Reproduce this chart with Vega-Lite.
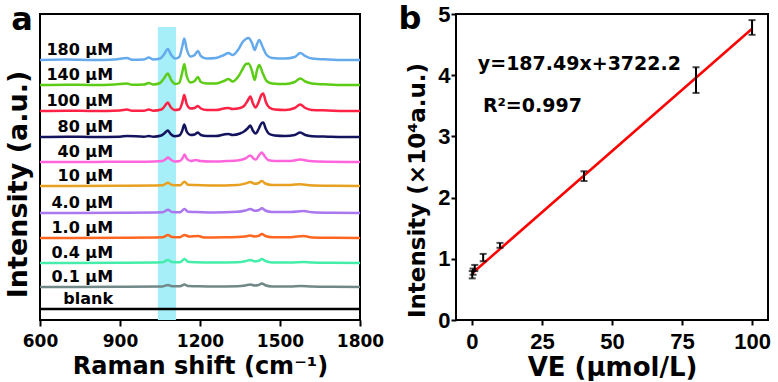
{
"$schema": "https://vega.github.io/schema/vega-lite/v6.json",
"padding": {"left": 3, "top": 2, "right": 0, "bottom": 0},
"background": "white",
"datasets": {
"spec": [
{"s":"180 µM","x":600,"y":260},{"s":"180 µM","x":700,"y":260.5},{"s":"180 µM","x":800,"y":260},{"s":"180 µM","x":880,"y":260.5},{"s":"180 µM","x":926,"y":262},{"s":"180 µM","x":945,"y":260.3},{"s":"180 µM","x":990,"y":260.5},{"s":"180 µM","x":1008,"y":262.5},{"s":"180 µM","x":1025,"y":260.5},{"s":"180 µM","x":1050,"y":261.5},{"s":"180 µM","x":1066,"y":266},{"s":"180 µM","x":1079,"y":271},{"s":"180 µM","x":1092,"y":265},{"s":"180 µM","x":1108,"y":261.5},{"s":"180 µM","x":1122,"y":263},{"s":"180 µM","x":1133,"y":273},{"s":"180 µM","x":1141,"y":281.5},{"s":"180 µM","x":1150,"y":271},{"s":"180 µM","x":1165,"y":263.5},{"s":"180 µM","x":1180,"y":265},{"s":"180 µM","x":1192,"y":269},{"s":"180 µM","x":1203,"y":264},{"s":"180 µM","x":1225,"y":261.5},{"s":"180 µM","x":1260,"y":262},{"s":"180 µM","x":1290,"y":265},{"s":"180 µM","x":1307,"y":267},{"s":"180 µM","x":1322,"y":265},{"s":"180 µM","x":1345,"y":271},{"s":"180 µM","x":1360,"y":278},{"s":"180 µM","x":1372,"y":281},{"s":"180 µM","x":1382,"y":282},{"s":"180 µM","x":1395,"y":277},{"s":"180 µM","x":1405,"y":270},{"s":"180 µM","x":1414,"y":276},{"s":"180 µM","x":1422,"y":280},{"s":"180 µM","x":1435,"y":273},{"s":"180 µM","x":1450,"y":265},{"s":"180 µM","x":1470,"y":262},{"s":"180 µM","x":1520,"y":261.5},{"s":"180 µM","x":1555,"y":263},{"s":"180 µM","x":1576,"y":267},{"s":"180 µM","x":1595,"y":264},{"s":"180 µM","x":1620,"y":261.5},{"s":"180 µM","x":1680,"y":260.5},{"s":"180 µM","x":1740,"y":260},{"s":"180 µM","x":1800,"y":260},
{"s":"140 µM","x":600,"y":235},{"s":"140 µM","x":700,"y":235.3},{"s":"140 µM","x":800,"y":235},{"s":"140 µM","x":880,"y":235.5},{"s":"140 µM","x":926,"y":236.5},{"s":"140 µM","x":945,"y":235.3},{"s":"140 µM","x":990,"y":235.5},{"s":"140 µM","x":1008,"y":237},{"s":"140 µM","x":1025,"y":235.5},{"s":"140 µM","x":1050,"y":237},{"s":"140 µM","x":1066,"y":242},{"s":"140 µM","x":1079,"y":246.5},{"s":"140 µM","x":1092,"y":240},{"s":"140 µM","x":1108,"y":236},{"s":"140 µM","x":1122,"y":237},{"s":"140 µM","x":1133,"y":247},{"s":"140 µM","x":1141,"y":256},{"s":"140 µM","x":1150,"y":244},{"s":"140 µM","x":1165,"y":237.5},{"s":"140 µM","x":1180,"y":239},{"s":"140 µM","x":1192,"y":243},{"s":"140 µM","x":1203,"y":238},{"s":"140 µM","x":1225,"y":236.5},{"s":"140 µM","x":1260,"y":236.5},{"s":"140 µM","x":1290,"y":239},{"s":"140 µM","x":1307,"y":241},{"s":"140 µM","x":1322,"y":238.5},{"s":"140 µM","x":1345,"y":244},{"s":"140 µM","x":1360,"y":251},{"s":"140 µM","x":1372,"y":256},{"s":"140 µM","x":1382,"y":256.5},{"s":"140 µM","x":1395,"y":249},{"s":"140 µM","x":1405,"y":240},{"s":"140 µM","x":1414,"y":250},{"s":"140 µM","x":1422,"y":255},{"s":"140 µM","x":1435,"y":247},{"s":"140 µM","x":1450,"y":239},{"s":"140 µM","x":1470,"y":236.5},{"s":"140 µM","x":1520,"y":236},{"s":"140 µM","x":1555,"y":238},{"s":"140 µM","x":1576,"y":241.5},{"s":"140 µM","x":1595,"y":238.5},{"s":"140 µM","x":1620,"y":236.5},{"s":"140 µM","x":1680,"y":235.5},{"s":"140 µM","x":1740,"y":235},{"s":"140 µM","x":1800,"y":235},
{"s":"100 µM","x":600,"y":209},{"s":"100 µM","x":700,"y":209.3},{"s":"100 µM","x":800,"y":209},{"s":"100 µM","x":900,"y":209.5},{"s":"100 µM","x":926,"y":210.5},{"s":"100 µM","x":945,"y":209.3},{"s":"100 µM","x":990,"y":209.3},{"s":"100 µM","x":1008,"y":210.5},{"s":"100 µM","x":1025,"y":209.3},{"s":"100 µM","x":1055,"y":210.5},{"s":"100 µM","x":1068,"y":214},{"s":"100 µM","x":1079,"y":217.5},{"s":"100 µM","x":1090,"y":213},{"s":"100 µM","x":1105,"y":210},{"s":"100 µM","x":1122,"y":210.5},{"s":"100 µM","x":1133,"y":217},{"s":"100 µM","x":1141,"y":225},{"s":"100 µM","x":1150,"y":216},{"s":"100 µM","x":1165,"y":211.5},{"s":"100 µM","x":1180,"y":212},{"s":"100 µM","x":1192,"y":214},{"s":"100 µM","x":1203,"y":211.5},{"s":"100 µM","x":1225,"y":210},{"s":"100 µM","x":1260,"y":210},{"s":"100 µM","x":1290,"y":211.5},{"s":"100 µM","x":1307,"y":212},{"s":"100 µM","x":1322,"y":211},{"s":"100 µM","x":1350,"y":212},{"s":"100 µM","x":1365,"y":214},{"s":"100 µM","x":1378,"y":219},{"s":"100 µM","x":1389,"y":223.5},{"s":"100 µM","x":1398,"y":217},{"s":"100 µM","x":1408,"y":212.5},{"s":"100 µM","x":1420,"y":218},{"s":"100 µM","x":1430,"y":225},{"s":"100 µM","x":1437,"y":226.5},{"s":"100 µM","x":1447,"y":218},{"s":"100 µM","x":1460,"y":212.5},{"s":"100 µM","x":1480,"y":210.5},{"s":"100 µM","x":1520,"y":210},{"s":"100 µM","x":1555,"y":212},{"s":"100 µM","x":1576,"y":215.5},{"s":"100 µM","x":1595,"y":212},{"s":"100 µM","x":1620,"y":210},{"s":"100 µM","x":1680,"y":209.5},{"s":"100 µM","x":1740,"y":209},{"s":"100 µM","x":1800,"y":209},
{"s":"80 µM","x":600,"y":183},{"s":"80 µM","x":700,"y":183.3},{"s":"80 µM","x":800,"y":183},{"s":"80 µM","x":900,"y":183.3},{"s":"80 µM","x":926,"y":184},{"s":"80 µM","x":990,"y":183.3},{"s":"80 µM","x":1008,"y":184},{"s":"80 µM","x":1025,"y":183.3},{"s":"80 µM","x":1055,"y":184.5},{"s":"80 µM","x":1068,"y":187},{"s":"80 µM","x":1079,"y":189.5},{"s":"80 µM","x":1090,"y":186},{"s":"80 µM","x":1105,"y":183.8},{"s":"80 µM","x":1122,"y":184.5},{"s":"80 µM","x":1133,"y":189},{"s":"80 µM","x":1141,"y":195.5},{"s":"80 µM","x":1150,"y":188.5},{"s":"80 µM","x":1165,"y":185},{"s":"80 µM","x":1180,"y":185.5},{"s":"80 µM","x":1192,"y":187.5},{"s":"80 µM","x":1203,"y":185},{"s":"80 µM","x":1225,"y":184},{"s":"80 µM","x":1260,"y":184},{"s":"80 µM","x":1290,"y":185.5},{"s":"80 µM","x":1307,"y":186},{"s":"80 µM","x":1322,"y":185},{"s":"80 µM","x":1350,"y":186.5},{"s":"80 µM","x":1365,"y":188.5},{"s":"80 µM","x":1378,"y":191.5},{"s":"80 µM","x":1389,"y":194.5},{"s":"80 µM","x":1398,"y":189.5},{"s":"80 µM","x":1408,"y":186.5},{"s":"80 µM","x":1420,"y":191},{"s":"80 µM","x":1430,"y":196.5},{"s":"80 µM","x":1437,"y":197.5},{"s":"80 µM","x":1447,"y":191},{"s":"80 µM","x":1460,"y":186},{"s":"80 µM","x":1480,"y":184.5},{"s":"80 µM","x":1520,"y":184},{"s":"80 µM","x":1555,"y":185},{"s":"80 µM","x":1576,"y":187.5},{"s":"80 µM","x":1595,"y":185},{"s":"80 µM","x":1620,"y":183.8},{"s":"80 µM","x":1680,"y":183.3},{"s":"80 µM","x":1740,"y":183},{"s":"80 µM","x":1800,"y":183},
{"s":"40 µM","x":600,"y":158},{"s":"40 µM","x":800,"y":158},{"s":"40 µM","x":900,"y":158.3},{"s":"40 µM","x":1000,"y":158.3},{"s":"40 µM","x":1060,"y":159},{"s":"40 µM","x":1072,"y":161},{"s":"40 µM","x":1080,"y":162.5},{"s":"40 µM","x":1090,"y":160.5},{"s":"40 µM","x":1105,"y":158.5},{"s":"40 µM","x":1125,"y":159},{"s":"40 µM","x":1135,"y":162},{"s":"40 µM","x":1142,"y":165.5},{"s":"40 µM","x":1150,"y":161.5},{"s":"40 µM","x":1165,"y":159},{"s":"40 µM","x":1185,"y":160},{"s":"40 µM","x":1200,"y":159},{"s":"40 µM","x":1240,"y":158.5},{"s":"40 µM","x":1300,"y":159},{"s":"40 µM","x":1340,"y":159.5},{"s":"40 µM","x":1370,"y":161.5},{"s":"40 µM","x":1389,"y":164.5},{"s":"40 µM","x":1400,"y":161.5},{"s":"40 µM","x":1410,"y":160.5},{"s":"40 µM","x":1422,"y":165},{"s":"40 µM","x":1432,"y":167.5},{"s":"40 µM","x":1442,"y":164},{"s":"40 µM","x":1455,"y":160},{"s":"40 µM","x":1480,"y":159},{"s":"40 µM","x":1540,"y":159},{"s":"40 µM","x":1576,"y":160.5},{"s":"40 µM","x":1610,"y":159},{"s":"40 µM","x":1680,"y":158.3},{"s":"40 µM","x":1800,"y":158},
{"s":"10 µM","x":600,"y":134},{"s":"10 µM","x":900,"y":134.3},{"s":"10 µM","x":1060,"y":134.8},{"s":"10 µM","x":1080,"y":137.3},{"s":"10 µM","x":1095,"y":135},{"s":"10 µM","x":1125,"y":134.8},{"s":"10 µM","x":1142,"y":138.3},{"s":"10 µM","x":1155,"y":135.2},{"s":"10 µM","x":1185,"y":135},{"s":"10 µM","x":1250,"y":134.5},{"s":"10 µM","x":1340,"y":135},{"s":"10 µM","x":1370,"y":136.5},{"s":"10 µM","x":1389,"y":138},{"s":"10 µM","x":1405,"y":136.2},{"s":"10 µM","x":1420,"y":137},{"s":"10 µM","x":1432,"y":139},{"s":"10 µM","x":1445,"y":136.5},{"s":"10 µM","x":1470,"y":135},{"s":"10 µM","x":1540,"y":135},{"s":"10 µM","x":1576,"y":135.8},{"s":"10 µM","x":1610,"y":134.8},{"s":"10 µM","x":1700,"y":134.2},{"s":"10 µM","x":1800,"y":134},
{"s":"4.0 µM","x":600,"y":107},{"s":"4.0 µM","x":900,"y":107.3},{"s":"4.0 µM","x":1060,"y":107.8},{"s":"4.0 µM","x":1080,"y":110.3},{"s":"4.0 µM","x":1095,"y":108},{"s":"4.0 µM","x":1125,"y":107.8},{"s":"4.0 µM","x":1142,"y":111},{"s":"4.0 µM","x":1155,"y":108.2},{"s":"4.0 µM","x":1185,"y":108},{"s":"4.0 µM","x":1250,"y":107.5},{"s":"4.0 µM","x":1340,"y":108.2},{"s":"4.0 µM","x":1370,"y":109.5},{"s":"4.0 µM","x":1389,"y":111},{"s":"4.0 µM","x":1405,"y":109.3},{"s":"4.0 µM","x":1420,"y":109.8},{"s":"4.0 µM","x":1432,"y":111.7},{"s":"4.0 µM","x":1445,"y":109.5},{"s":"4.0 µM","x":1470,"y":108},{"s":"4.0 µM","x":1540,"y":108},{"s":"4.0 µM","x":1589,"y":109},{"s":"4.0 µM","x":1620,"y":107.8},{"s":"4.0 µM","x":1700,"y":107.2},{"s":"4.0 µM","x":1800,"y":107},
{"s":"1.0 µM","x":600,"y":82},{"s":"1.0 µM","x":900,"y":82.3},{"s":"1.0 µM","x":1060,"y":82.8},{"s":"1.0 µM","x":1080,"y":85},{"s":"1.0 µM","x":1095,"y":83},{"s":"1.0 µM","x":1125,"y":82.8},{"s":"1.0 µM","x":1142,"y":85},{"s":"1.0 µM","x":1160,"y":83.5},{"s":"1.0 µM","x":1193,"y":84},{"s":"1.0 µM","x":1215,"y":82.6},{"s":"1.0 µM","x":1300,"y":82.8},{"s":"1.0 µM","x":1370,"y":83.6},{"s":"1.0 µM","x":1389,"y":84.5},{"s":"1.0 µM","x":1405,"y":83.6},{"s":"1.0 µM","x":1420,"y":84.2},{"s":"1.0 µM","x":1432,"y":86},{"s":"1.0 µM","x":1445,"y":84},{"s":"1.0 µM","x":1470,"y":82.8},{"s":"1.0 µM","x":1540,"y":82.8},{"s":"1.0 µM","x":1589,"y":84},{"s":"1.0 µM","x":1620,"y":82.6},{"s":"1.0 µM","x":1700,"y":82.2},{"s":"1.0 µM","x":1800,"y":82},
{"s":"0.4 µM","x":600,"y":57},{"s":"0.4 µM","x":900,"y":57.3},{"s":"0.4 µM","x":1060,"y":57.8},{"s":"0.4 µM","x":1080,"y":60},{"s":"0.4 µM","x":1095,"y":58},{"s":"0.4 µM","x":1125,"y":57.8},{"s":"0.4 µM","x":1142,"y":61},{"s":"0.4 µM","x":1155,"y":58.2},{"s":"0.4 µM","x":1185,"y":57.8},{"s":"0.4 µM","x":1250,"y":57.5},{"s":"0.4 µM","x":1340,"y":57.8},{"s":"0.4 µM","x":1370,"y":58.8},{"s":"0.4 µM","x":1389,"y":60},{"s":"0.4 µM","x":1405,"y":58.6},{"s":"0.4 µM","x":1420,"y":59.2},{"s":"0.4 µM","x":1432,"y":61},{"s":"0.4 µM","x":1445,"y":59},{"s":"0.4 µM","x":1470,"y":57.6},{"s":"0.4 µM","x":1540,"y":57.6},{"s":"0.4 µM","x":1589,"y":58},{"s":"0.4 µM","x":1620,"y":57.5},{"s":"0.4 µM","x":1700,"y":57.2},{"s":"0.4 µM","x":1800,"y":57},
{"s":"0.1 µM","x":600,"y":33},{"s":"0.1 µM","x":900,"y":33.3},{"s":"0.1 µM","x":1060,"y":33.6},{"s":"0.1 µM","x":1080,"y":35},{"s":"0.1 µM","x":1095,"y":33.8},{"s":"0.1 µM","x":1125,"y":33.8},{"s":"0.1 µM","x":1142,"y":35.5},{"s":"0.1 µM","x":1155,"y":34},{"s":"0.1 µM","x":1185,"y":33.8},{"s":"0.1 µM","x":1250,"y":33.5},{"s":"0.1 µM","x":1340,"y":33.8},{"s":"0.1 µM","x":1370,"y":34.6},{"s":"0.1 µM","x":1389,"y":35.5},{"s":"0.1 µM","x":1405,"y":34.5},{"s":"0.1 µM","x":1420,"y":35},{"s":"0.1 µM","x":1432,"y":36.5},{"s":"0.1 µM","x":1445,"y":34.8},{"s":"0.1 µM","x":1470,"y":33.6},{"s":"0.1 µM","x":1540,"y":33.6},{"s":"0.1 µM","x":1576,"y":34},{"s":"0.1 µM","x":1620,"y":33.5},{"s":"0.1 µM","x":1700,"y":33.2},{"s":"0.1 µM","x":1800,"y":33},
{"s":"blank","x":600,"y":11},{"s":"blank","x":1800,"y":11}
],
"labels": [
{"s":"180 µM","y":260},{"s":"140 µM","y":235},{"s":"100 µM","y":209},{"s":"80 µM","y":183},{"s":"40 µM","y":158},{"s":"10 µM","y":134},{"s":"4.0 µM","y":107},{"s":"1.0 µM","y":82},{"s":"0.4 µM","y":57},{"s":"0.1 µM","y":33},{"s":"blank","y":11}
],
"band": [{"x1":1042,"x2":1110,"top":293}],
"pts": [
{"c":0.1,"lo":0.68,"hi":0.80},{"c":0.4,"lo":0.74,"hi":0.84},{"c":1,"lo":0.80,"hi":0.90},{"c":4,"lo":0.96,"hi":1.08},{"c":10,"lo":1.18,"hi":1.26},{"c":40,"lo":2.27,"hi":2.43},{"c":80,"lo":3.71,"hi":4.13},{"c":100,"lo":4.66,"hi":4.90}
],
"fit": [{"c":0,"v":0.76},{"c":100,"v":4.76}],
"ann": [{"c":2.1,"v":4.19,"t":"y=187.49x+3722.2"},{"c":3.9,"v":3.49,"t":"R²=0.997"}]
},
"spacing": 12,
"hconcat": [
{
"width": 320, "height": 306,
"layer": [
{"data": {"name": "band"}, "mark": {"type": "rect", "color": "#a6eef8"},
 "encoding": {
  "x": {"field": "x1", "type": "quantitative", "scale": {"domain": [600, 1800], "nice": false, "zero": false},
   "axis": {"title": "Raman shift (cm⁻¹)", "values": [600,750,900,1050,1200,1350,1500,1650,1800], "format": "d",
    "labelExpr": "datum.value % 300 == 0 ? datum.label : ''", "labelOverlap": false, "labelFlush": false,
    "tickSize": 6, "tickWidth": 2, "labelFont": "DejaVu Sans", "labelFontSize": 17, "labelFontWeight": "bold", "labelPadding": 7,
    "titleFont": "DejaVu Sans", "titleFontSize": 24, "titleFontWeight": "bold", "titlePadding": 5}},
  "x2": {"field": "x2"},
  "y": {"field": "top", "type": "quantitative", "scale": {"domain": [0, 306], "nice": false},
   "axis": {"title": "Intensity (a.u.)", "labels": false, "ticks": false, "titleFont": "DejaVu Sans", "titleFontSize": 27, "titleFontWeight": "bold", "titlePadding": 8, "titleY": 170}},
  "y2": {"datum": 0}
 }},
{"data": {"name": "spec"}, "mark": {"type": "line", "strokeWidth": 2.5, "interpolate": "monotone"},
 "encoding": {
  "x": {"field": "x", "type": "quantitative"},
  "y": {"field": "y", "type": "quantitative"},
  "color": {"field": "s", "type": "nominal", "legend": null,
   "scale": {"domain": ["180 µM","140 µM","100 µM","80 µM","40 µM","10 µM","4.0 µM","1.0 µM","0.4 µM","0.1 µM","blank"],
    "range": ["#66aaee","#5ccc16","#ff2244","#14145e","#ff66dd","#e8a020","#aa77ee","#ff6622","#44eeaa","#708888","#000000"]}}
 }},
{"data": {"name": "labels"}, "mark": {"type": "text", "align": "right", "baseline": "alphabetic", "dy": -5, "font": "DejaVu Sans", "fontWeight": "bold", "fontSize": 16, "color": "black"},
 "encoding": {"x": {"datum": 874}, "y": {"field": "y", "type": "quantitative"}, "text": {"field": "s"}}},
{"data": {"values": [{"t": "a"}]}, "mark": {"type": "text", "align": "center", "baseline": "alphabetic", "dx": -18, "dy": 16, "font": "DejaVu Sans", "fontWeight": "bold", "fontSize": 32, "color": "black", "clip": false},
 "encoding": {"x": {"datum": 600}, "y": {"datum": 306}, "text": {"field": "t"}}}
]
},
{
"width": 312, "height": 306,
"layer": [
{"data": {"name": "fit"}, "mark": {"type": "line", "color": "#ff0000", "strokeWidth": 2.5},
 "encoding": {
  "x": {"field": "c", "type": "quantitative", "scale": {"domain": [-5.7, 105.7], "nice": false, "zero": false},
   "axis": {"title": "VE (µmol/L)", "values": [0,12.5,25,37.5,50,62.5,75,87.5,100],
    "labelExpr": "datum.value % 25 == 0 ? datum.label : ''", "labelOverlap": false, "labelFlush": false,
    "tickSize": 5, "tickWidth": 2, "labelFont": "Liberation Sans", "labelFontSize": 22, "labelFontWeight": "bold", "labelPadding": 6,
    "titleFont": "DejaVu Sans", "titleFontSize": 26, "titleFontWeight": "bold", "titlePadding": 2}},
  "y": {"field": "v", "type": "quantitative", "scale": {"domain": [0, 5], "nice": false},
   "axis": {"title": "Intensity (×10⁴a.u.)", "values": [0,1,2,3,4,5], "format": "d", "tickSize": 5, "tickWidth": 2,
    "labelFont": "Liberation Sans", "labelFontSize": 22, "labelFontWeight": "bold", "labelPadding": 1, "labelFlush": false,
    "titleFont": "DejaVu Sans", "titleFontSize": 23, "titleFontWeight": "bold", "titlePadding": 8, "titleY": 176}}
 }},
{"data": {"name": "pts"}, "mark": {"type": "errorbar", "ticks": {"size": 7, "thickness": 2, "color": "black"}, "rule": {"strokeWidth": 2, "color": "black"}},
 "encoding": {"x": {"field": "c", "type": "quantitative", "title": "VE (µmol/L)"}, "y": {"field": "lo", "type": "quantitative", "title": "Intensity (×10⁴a.u.)"}, "y2": {"field": "hi"}}},
{"data": {"name": "ann"}, "mark": {"type": "text", "align": "left", "baseline": "middle", "font": "DejaVu Sans", "fontWeight": "bold", "fontSize": 19, "color": "black"},
 "encoding": {"x": {"field": "c", "type": "quantitative", "title": "VE (µmol/L)"}, "y": {"field": "v", "type": "quantitative", "title": "Intensity (×10⁴a.u.)"}, "text": {"field": "t"}}},
{"data": {"values": [{"t": "b"}]}, "mark": {"type": "text", "align": "center", "baseline": "alphabetic", "dx": -46, "dy": 15, "font": "DejaVu Sans", "fontWeight": "bold", "fontSize": 32, "color": "black", "clip": false},
 "encoding": {"x": {"datum": -5.7, "title": "VE (µmol/L)"}, "y": {"datum": 5, "title": "Intensity (×10⁴a.u.)"}, "text": {"field": "t"}}}
]
}
],
"config": {
 "view": {"stroke": "black", "strokeWidth": 2},
 "axis": {"grid": false, "domain": false, "labelColor": "black", "titleColor": "black", "tickColor": "black"}
}
}
